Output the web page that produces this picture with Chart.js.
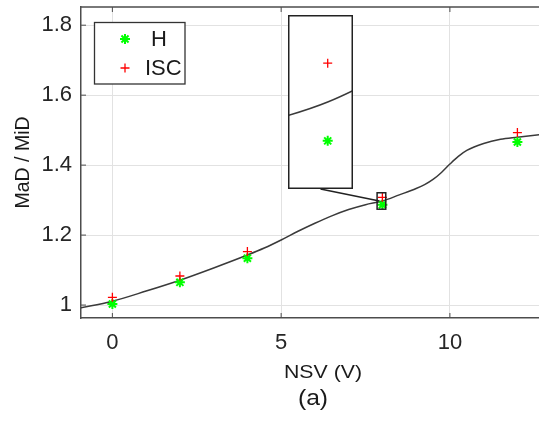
<!DOCTYPE html>
<html>
<head>
<meta charset="utf-8">
<script src="https://cdn.jsdelivr.net/npm/chart.js@4.4.0/dist/chart.umd.min.js"></script>
<style>
  body { margin: 0; background: #fff; }
  #wrap { position: relative; width: 539px; height: 423px; overflow: hidden; }
  #main { position: absolute; left: 0; top: 0; }
  #inset { position: absolute; left: 288px; top: 15px; background: #fff; }
  .lbl { position: absolute; font-family: 'Liberation Sans', Arial, sans-serif; color: #1a1a1a; white-space: nowrap; transform: translate(-50%, -50%) scaleX(1.12); }
</style>
</head>
<body>
<div id="wrap">
  <canvas id="main" width="539" height="423"></canvas>
  <canvas id="inset" width="65" height="174"></canvas>
  <div class="lbl" style="left:323px; top:372px; font-size:19px;">NSV (V)</div>
  <div class="lbl" style="left:313px; top:398px; font-size:22px;">(a)</div>
</div>
<script>
// measured points
const voltages = [0, 2, 4, 8, 12];
const hValues = [1.003, 1.065, 1.134, 1.287, 1.466];
const iscValues = [1.022, 1.083, 1.153, 1.308, 1.493];

// fitted curve
const fitX = [-1, 0, 1, 2, 3, 4, 4.5, 5, 5.5, 6, 6.5, 7, 7.5, 8, 8.5, 9, 9.25, 9.5, 9.75, 10, 10.25, 10.5, 11, 11.5, 12, 13];
const fitY = [0.991, 1.011, 1.040, 1.071, 1.106, 1.143, 1.163, 1.186, 1.211, 1.234, 1.255, 1.273, 1.287, 1.2975, 1.315, 1.333, 1.344, 1.359, 1.379, 1.403, 1.425, 1.442, 1.462, 1.474, 1.480, 1.491];

const xTicks = [0, 5, 10];
const yTicks = [1, 1.2, 1.4, 1.6, 1.8];

// zoomed window shown in the inset
const zoomX = [7.843, 8.10];
const zoomY = [1.274, 1.321];

const insetBox = { left: 288, top: 15, w: 65, h: 174 };

function makeDatasets() {
    return [
        {
            label: 'H',
            data: voltages.map((v, i) => ({ x: v, y: hValues[i] })),
            pointStyle: 'star',
            pointRadius: 5,
            borderColor: '#00ff00',
            backgroundColor: '#00ff00',
            borderWidth: 2,
            showLine: false,
            order: 1
        },
        {
            label: 'ISC',
            data: voltages.map((v, i) => ({ x: v, y: iscValues[i] })),
            pointStyle: 'cross',
            pointRadius: 4.5,
            borderColor: '#ff0000',
            backgroundColor: '#ff0000',
            borderWidth: 1.3,
            showLine: false,
            order: 0
        },
        {
            label: 'fit',
            data: fitX.map((v, i) => ({ x: v, y: fitY[i] })),
            showLine: true,
            cubicInterpolationMode: 'monotone',
            capBezierPoints: false,
            borderColor: '#3a3a3a',
            borderWidth: 1.5,
            pointRadius: 0,
            order: 2
        }
    ];
}

// small marker drawing for the legend box
function drawMarker(ctx, style, color, x, y, r, lw) {
    ctx.strokeStyle = color;
    ctx.lineWidth = lw;
    ctx.beginPath();
    ctx.moveTo(x - r, y); ctx.lineTo(x + r, y);
    ctx.moveTo(x, y - r); ctx.lineTo(x, y + r);
    if (style === 'star') {
        const d = r * Math.SQRT1_2;
        ctx.moveTo(x - d, y - d); ctx.lineTo(x + d, y + d);
        ctx.moveTo(x - d, y + d); ctx.lineTo(x + d, y - d);
    }
    ctx.stroke();
}

const framePlugin = {
    id: 'frame',
    afterDatasetsDraw(chart) {
        const { ctx, chartArea: a, scales: { x, y } } = chart;
        ctx.save();
        // top box line
        ctx.strokeStyle = '#4d4d4d';
        ctx.lineWidth = 1.5;
        ctx.beginPath();
        ctx.moveTo(a.left, a.top);
        ctx.lineTo(a.right, a.top);
        ctx.stroke();

        // inward tick marks
        ctx.lineWidth = 1;
        ctx.beginPath();
        xTicks.forEach(v => {
            const px = x.getPixelForValue(v);
            ctx.moveTo(px, a.bottom); ctx.lineTo(px, a.bottom - 5);
            ctx.moveTo(px, a.top); ctx.lineTo(px, a.top + 5);
        });
        yTicks.forEach(v => {
            const py = y.getPixelForValue(v);
            ctx.moveTo(a.left, py); ctx.lineTo(a.left + 5, py);
        });
        ctx.stroke();

        // zoom window and connector to the inset
        const zx0 = x.getPixelForValue(zoomX[0]);
        const zx1 = x.getPixelForValue(zoomX[1]);
        const zy0 = y.getPixelForValue(zoomY[1]);
        const zy1 = y.getPixelForValue(zoomY[0]);
        ctx.strokeStyle = '#222';
        ctx.lineWidth = 1.5;
        ctx.strokeRect(zx0, zy0, zx1 - zx0, zy1 - zy0);
        ctx.beginPath();
        ctx.moveTo(insetBox.left + insetBox.w / 2, insetBox.top + insetBox.h);
        ctx.lineTo((zx0 + zx1) / 2 - 2, (zy0 + zy1) / 2);
        ctx.stroke();
        ctx.restore();
    },
    afterDraw(chart) {
        const ctx = chart.ctx;
        const ds = chart.data.datasets;
        ctx.save();
        ctx.fillStyle = '#fff';
        ctx.fillRect(94, 22, 91, 62);
        ctx.strokeStyle = '#333';
        ctx.lineWidth = 1.3;
        ctx.strokeRect(94.5, 22.5, 90.5, 61.5);
        drawMarker(ctx, ds[0].pointStyle, ds[0].borderColor, 125, 39, 5, 2);
        drawMarker(ctx, ds[1].pointStyle, ds[1].borderColor, 125, 68, 4.5, 1.3);
        ctx.fillStyle = '#1a1a1a';
        ctx.font = '22px "Liberation Sans", Arial, sans-serif';
        ctx.textBaseline = 'middle';
        ctx.fillText(ds[0].label, 151, 40);
        ctx.fillText(ds[1].label, 145, 69);
        ctx.restore();
    }
};

const tickFont = { family: '"Liberation Sans", Arial, sans-serif', size: 22 };

function noPadding(s) {
    s.paddingTop = 0;
    s.paddingBottom = 0;
    s.paddingLeft = 0;
    s.paddingRight = 0;
}

const mainChart = new Chart(document.getElementById('main'), {
    type: 'scatter',
    data: { datasets: makeDatasets() },
    options: {
        responsive: false,
        animation: false,
        devicePixelRatio: 1,
        layout: { autoPadding: false, padding: { top: 7, right: 0, left: 0, bottom: 0 } },
        plugins: {
            legend: { display: false },
            tooltip: { enabled: false }
        },
        scales: {
            x: {
                type: 'linear',
                min: -0.93,
                max: 12.64,
                afterBuildTicks: s => { s.ticks = xTicks.map(v => ({ value: v })); },
                afterFit: s => { s.height = 105; noPadding(s); },
                ticks: { font: tickFont, color: '#262626', padding: 12, callback: v => String(v) },
                grid: { color: '#e2e2e2', lineWidth: 1, drawTicks: false },
                border: { color: '#4d4d4d', width: 1.5 }
            },
            y: {
                type: 'linear',
                min: 0.963,
                max: 1.852,
                afterBuildTicks: s => { s.ticks = yTicks.map(v => ({ value: v })); },
                afterFit: s => { s.width = 81; noPadding(s); },
                ticks: { font: tickFont, color: '#262626', padding: 9, callback: v => String(v) },
                grid: { color: '#e2e2e2', lineWidth: 1, drawTicks: false },
                border: { color: '#4d4d4d', width: 1.5 },
                title: {
                    display: true,
                    text: 'MaD / MiD',
                    color: '#1a1a1a',
                    font: { family: '"Liberation Sans", Arial, sans-serif', size: 19.5 },
                    padding: { top: 12, bottom: 0 }
                }
            }
        }
    },
    plugins: [framePlugin]
});

// inset: same data on a zoomed pair of scales
const insetBorder = {
    id: 'insetBorder',
    afterDraw(chart) {
        const ctx = chart.ctx;
        ctx.save();
        ctx.strokeStyle = '#222';
        ctx.lineWidth = 1.5;
        ctx.strokeRect(0.75, 0.75, chart.width - 1.5, chart.height - 1.5);
        ctx.restore();
    }
};

const insetChart = new Chart(document.getElementById('inset'), {
    type: 'scatter',
    data: { datasets: makeDatasets() },
    options: {
        responsive: false,
        animation: false,
        devicePixelRatio: 1,
        layout: { autoPadding: false, padding: 0 },
        plugins: {
            legend: { display: false },
            tooltip: { enabled: false }
        },
        scales: {
            x: { display: false, min: zoomX[0], max: zoomX[1] },
            y: { display: false, min: zoomY[0], max: zoomY[1] }
        }
    },
    plugins: [insetBorder]
});
</script>
</body>
</html>
